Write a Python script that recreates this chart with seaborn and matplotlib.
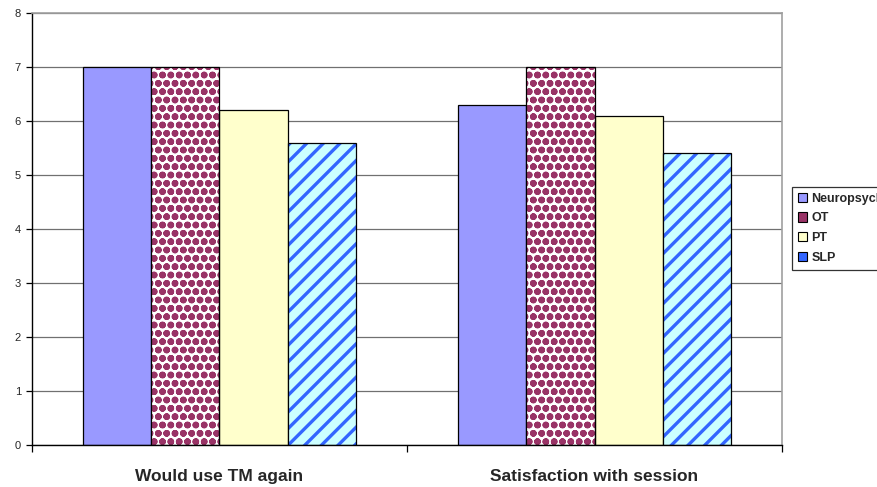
import pandas as pd
import matplotlib
matplotlib.use("Agg")
import matplotlib.pyplot as plt
import seaborn as sns
from matplotlib.patches import Rectangle

# ------------- Data -------------
questions = ["Would use TM again", "Satisfaction with session"]
disciplines = ["Neuropsych", "OT", "PT", "SLP"]
neuropsych = [7.0, 6.3]
ot = [7.0, 7.0]
pt = [6.2, 6.1]
slp = [5.6, 5.4]

df = pd.DataFrame({
    "question": questions * 4,
    "discipline": [d for d in disciplines for _ in questions],
    "score": neuropsych + ot + pt + slp,
})

# fill colour, hatch colour, hatch
styles = {
    "Neuropsych": ("#9999FF", None, None),
    "OT": ("#FFFFFF", "#993366", "oo"),
    "PT": ("#FFFFCC", None, None),
    "SLP": ("#CCFFFF", "#3366FF", "//"),
}

# ------------- Plot -------------
sns.set_style("white")
plt.rcParams["font.family"] = ["Liberation Sans", "DejaVu Sans"]
plt.rcParams["hatch.linewidth"] = 2.4

fig = plt.figure(figsize=(8.78, 4.87), dpi=100)
ax = fig.add_axes([0.0364, 0.0862, 0.8543, 0.8871])

ax.set_axisbelow(True)
ax.yaxis.grid(True, color="#707070", linewidth=0.9)

sns.barplot(
    data=df, x="question", y="score", hue="discipline",
    hue_order=disciplines, order=questions,
    palette=[styles[d][0] for d in disciplines],
    width=0.73, gap=0, saturation=1, ax=ax,
    edgecolor="black", linewidth=0.9, legend=False,
)

# hatched bars: hatch in its own colour, black outline on top
for cont, name in zip(ax.containers, disciplines):
    fc, hc, hatch = styles[name]
    for p in cont.patches:
        if hatch:
            p.set_hatch(hatch)
            p.set_edgecolor(hc)
            p.set_linewidth(0)
            ax.add_patch(Rectangle(p.get_xy(), p.get_width(), p.get_height(),
                                   fill=False, edgecolor="black", linewidth=0.9,
                                   zorder=p.get_zorder() + 0.1))

ax.set_ylim(0, 8)
ax.set_xlim(-0.5, 1.5)
ax.set_yticks(range(0, 9))
ax.tick_params(axis="y", labelsize=8, length=4, width=0.9, color="black", pad=4, left=True)
ax.set_xticks([0, 1])
ax.set_xticklabels(questions, fontsize=12.5, fontweight="bold")
ax.tick_params(axis="x", length=0, pad=17)
ax.set_xticks([-0.5, 0.5, 1.5], minor=True)
ax.tick_params(axis="x", which="minor", length=5, width=0.9, color="black", bottom=True)
ax.set_xlabel("")
ax.set_ylabel("")

for side in ["top", "right"]:
    ax.spines[side].set_color("#A0A0A0")
    ax.spines[side].set_linewidth(1.2)
for side in ["left", "bottom"]:
    ax.spines[side].set_color("black")
    ax.spines[side].set_linewidth(1.0)

# ------------- Legend (runs off the right edge, as in the original) -------------
handles = []
for name in disciplines:
    fc, hc, hatch = styles[name]
    handles.append(Rectangle((0, 0), 1, 1, facecolor=hc if hatch else fc,
                             edgecolor="black", linewidth=0.8))

leg = fig.legend(handles, disciplines, loc="upper left", bbox_to_anchor=(0.902, 0.616),
                 prop={"weight": "bold", "size": 9}, frameon=True, fancybox=False,
                 handlelength=0.75, handleheight=0.75, handletextpad=0.35, labelspacing=0.62,
                 borderpad=0.45, borderaxespad=0)
leg.get_frame().set_edgecolor("black")
leg.get_frame().set_linewidth(0.9)

plt.savefig("out.png", dpi=100)
